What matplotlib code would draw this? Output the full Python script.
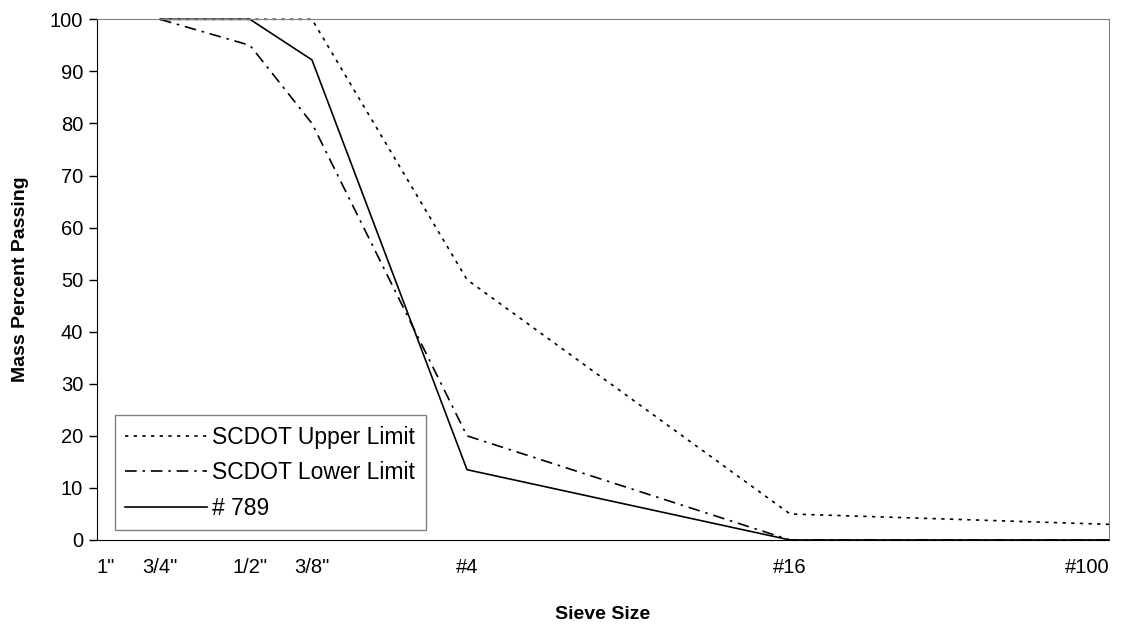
import matplotlib.pyplot as plt

plt.rcParams['font.family'] = ['Liberation Sans', 'DejaVu Sans']

# sieve sizes and their position along the x axis (0 = 1")
sieve_labels = ['1"', '3/4"', '1/2"', '3/8"', '#4', '#16', '#100']
sieve_pos = [0, 63, 153, 215, 370, 693, 1012]

# percent passing per sieve, starting at 3/4"
upper_limit = [100, 100, 100, 50, 5, 3]
lower_limit = [100, 95, 80, 20, 0, 0]
sample_789 = [100, 100, 92.2, 13.5, 0, 0]

fig = plt.figure(figsize=(11.25, 6.27), dpi=100)
ax = fig.add_axes([0.0862, 0.1388, 0.8996, 0.8304])

x = sieve_pos[1:]
ax.plot(x, upper_limit, color='black', lw=1.2, linestyle=(0, (2, 3.2)),
        label='SCDOT Upper Limit', clip_on=False)
ax.plot(x, lower_limit, color='black', lw=1.2, linestyle=(0, (7, 3.5, 1.5, 3.5)),
        label='SCDOT Lower Limit', clip_on=False)
ax.plot(x, sample_789, color='black', lw=1.2, label='# 789', clip_on=False)

ax.set_xlim(sieve_pos[0], sieve_pos[-1])
ax.set_ylim(0, 100)
ax.set_yticks(range(0, 101, 10))
ax.tick_params(axis='y', labelsize=14.5, length=6, width=1, direction='out', pad=4)
ax.set_xticks(sieve_pos)
ax.set_xticklabels(sieve_labels)
ax.tick_params(axis='x', labelsize=14.5, length=0, pad=13)
ticks = ax.get_xticklabels()
ticks[0].set_horizontalalignment('left')
ticks[-1].set_horizontalalignment('right')

for side in ['top', 'right']:
    ax.spines[side].set_color('#808080')
for side in ['left', 'bottom']:
    ax.spines[side].set_color('black')

ax.set_xlabel('Sieve Size', fontsize=14, fontweight='bold', labelpad=21)
ax.set_ylabel('Mass Percent Passing', fontsize=14, fontweight='bold', labelpad=15)

leg = ax.legend(loc='lower left', bbox_to_anchor=(0.0178, 0.019), borderaxespad=0,
                fontsize=16.5, fancybox=False, framealpha=1, edgecolor='#808080',
                handlelength=3.55, handletextpad=0.25, borderpad=0.45,
                labelspacing=0.55)
leg.get_frame().set_linewidth(1)

plt.savefig('out.png', dpi=100)
